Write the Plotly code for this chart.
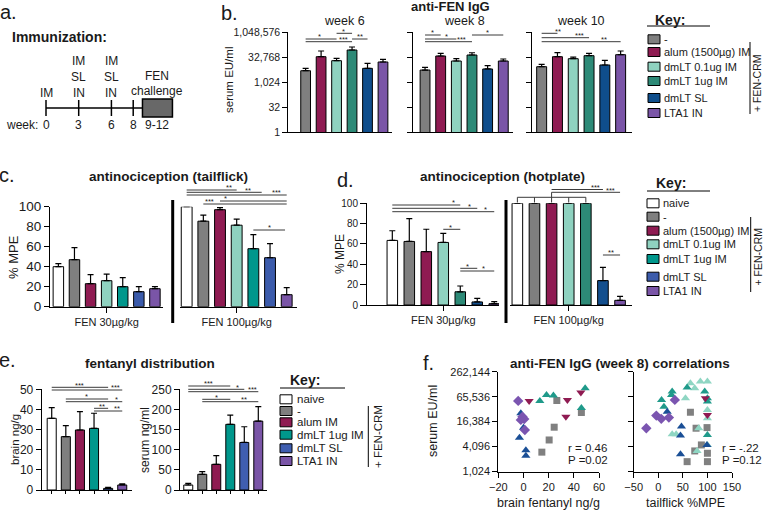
import math
import plotly.graph_objects as go

W, H = 763, 510
FONT = "Liberation Sans, Arial, Helvetica, sans-serif"
INK = "#1a1a1a"

# ======================= DATA =======================
# a. immunization timeline
timeline_weeks = [0, 3, 6, 8]
timeline_routes = [["IM"], ["IM", "SL", "IN"], ["IM", "SL", "IN"], []]
challenge_text = ["FEN", "challenge"]
challenge_span = "9-12"

# b. anti-FEN IgG (serum EU/ml)
igg_groups = ["-", "alum (1500µg) IM", "dmLT 0.1ug IM", "dmLT 1ug IM", "dmLT SL", "LTA1 IN"]
igg_weeks = ["week 6", "week 8", "week 10"]
igg_wk6 = [5100, 35600, 20500, 90000, 7100, 17100]
igg_wk6_err = [2000, 42900, 8000, 47000, 7200, 7700]
igg_wk8 = [5600, 39300, 19600, 45000, 6500, 19600]
igg_wk8_err = [2600, 17700, 7300, 16500, 3700, 6300]
igg_wk10 = [8900, 35600, 27000, 41000, 11300, 47000]
igg_wk10_err = [3500, 26400, 7000, 16000, 10300, 31500]
igg_ticks = [1, 32, 1024, 32768, 1048576]
igg_ticktext = ["1", "32", "1,024", "32,768", "1,048,576"]

# c / d. antinociception (% MPE)
mpe_groups = ["naive", "-", "alum (1500µg) IM", "dmLT 0.1ug IM", "dmLT 1ug IM", "dmLT SL", "LTA1 IN"]
doses = ["FEN 30µg/kg", "FEN 100µg/kg"]
tail_30 = [40, 47, 23, 26, 20, 15, 18]
tail_30_err = [3, 12, 9, 6.5, 9, 5, 2]
tail_100 = [100, 85.5, 97, 81.5, 58, 49, 12]
tail_100_err = [None, 6, 2, 6, 14, 14, 7]
hot_30 = [63.5, 62.5, 52.5, 61.5, 13, 3, 1.3]
hot_30_err = [9.5, 22.5, 22, 9, 5.7, 3.5, 2]
hot_100 = [100, 100, 100, 100, 100, 24, 4.6]
hot_100_err = [None, None, None, None, None, 13, 3.9]
mpe_ticks = [0, 20, 40, 60, 80, 100]

# e. fentanyl distribution
dist_groups = ["naive", "-", "alum IM", "dmLT 1ug IM", "dmLT SL", "LTA1 IN"]
brain = [35.6, 26.5, 29.8, 30.6, 0.8, 2.5]
brain_err = [5.3, 5.5, 9.1, 7.5, 0.5, 0.5]
serum = [12.4, 39, 63.7, 163, 118, 171]
serum_err = [4.2, 6.5, 21.6, 23, 39, 36]
brain_ticks = [0, 10, 20, 30, 40, 50]
serum_ticks = [0, 50, 100, 150, 200, 250]

# f. anti-FEN IgG (week 8) correlations
corr_ticks = [1024, 4096, 16384, 65536, 262144]
corr_ticktext = ["1,024", "4,096", "16,384", "65,536", "262,144"]
fb_gray_x = [26.5, 46, 24.4, 20.4, 14.6]
fb_gray_y = [52900, 27200, 12000, 5900, 3000]
fb_alum_x = [4.5, 34.9, 33.7, 45.6]
fb_alum_y = [51800, 54700, 21600, 82400]
fb_d1_x = [13, 18.3, 23.8, 49, 46]
fb_d1_y = [51800, 72200, 70200, 105000, 35100]
fb_sl_x = [-2.1, 0, -3.2, 1.9, 1.9]
fb_sl_y = [26000, 11600, 6650, 3330, 2470]
fb_lta_x = [-4.2, -0.8, -2.1, 0.6, 1.1]
fb_lta_y = [51800, 21600, 18000, 18800, 10300]

ft_gray_x = [65.4, 76.9, 99.2, 87.7, 100, 74.2, 58.7, 100]
ft_gray_y = [27550, 11340, 11740, 4480, 2820, 3210, 1770, 1770]
ft_alum_x = [95.8, 100]
ft_alum_y = [60300, 23800]
ft_d01_x = [65.4, 74.2, 85.6, 100, 55.3, 100, 100, 82.4, 28.3, 36.4, 79, 100]
ft_d01_y = [138500, 105000, 151500, 151500, 60300, 31400, 19750, 11340, 8130, 8130, 3210, 4480]
ft_d1_x = [28.3, 27, 6.7, 11.5, 58.7, 94.5, 100, 100, 100]
ft_d1_y = [87000, 72200, 54700, 37600, 108600, 87000, 60300, 50000, 7800]
ft_sl_x = [18.2, 47.2, 45.2, 45.2, 99]
ft_sl_y = [28500, 12400, 7540, 2660, 4480]
ft_lta_x = [-24.3, -4, 6.1, 21.6, 33.7]
ft_lta_y = [11340, 22850, 19080, 20450, 54700]
corr_stats = [["r = 0.46", "P =0.02"], ["r = -.22", "P =0.12"]]

# ======================= STYLE =======================
col_b = ["#7f7f7f", "#8f1b52", "#8fd2c0", "#2d8a77", "#0f4e8c", "#7a55a7"]
col_c = ["#ffffff", "#7f7f7f", "#8f1b52", "#8fd2c0", "#00978c", "#3b5bab", "#7a55a7"]
col_d = ["#ffffff", "#7f7f7f", "#8f1b52", "#8fd2c0", "#2d8a77", "#134f8e", "#7a55a7"]
col_e = ["#ffffff", "#7f7f7f", "#8f1b52", "#00978c", "#3f5eb0", "#7a55a7"]
col_f = {"gray": "#808080", "alum": "#8f1b52", "d01": "#8fd6c3", "d1": "#1f9a8a",
         "sl": "#1a4f96", "lta": "#7b55b0"}

shapes, annotations, traces = [], [], []
layout = dict(width=W, height=H, autosize=False,
              margin=dict(l=0, r=0, t=0, b=0, pad=0, autoexpand=False),
              paper_bgcolor="white", plot_bgcolor="rgba(0,0,0,0)", showlegend=False,
              font=dict(family=FONT, color=INK))


def px(x):
    return x / W


def py(y):
    return 1 - y / H


AX = {"n": 0}


def add_axes(xdom, ydom, xkw, ykw, tick_size=11):
    AX["n"] += 1
    n = AX["n"]
    s = "" if n == 1 else str(n)
    base = dict(showline=True, linecolor="black", linewidth=1, showgrid=False, zeroline=False,
                ticks="outside", ticklen=4, tickwidth=1, tickcolor="black", fixedrange=True,
                automargin=False, tickfont=dict(family=FONT, size=tick_size, color=INK))
    xa = dict(base)
    xa.update(domain=[px(xdom[0]), px(xdom[1])], anchor="y" + s)
    xa.update(xkw)
    ya = dict(base)
    ya.update(domain=[py(ydom[1]), py(ydom[0])], anchor="x" + s)
    ya.update(ykw)
    layout["xaxis" + s] = xa
    layout["yaxis" + s] = ya
    return "x" + s, "y" + s


def text(x, y, t, size, bold=False, xanchor="center", yanchor="middle", angle=0, xref="paper"):
    annotations.append(dict(x=px(x) if xref == "paper" else x, y=py(y), xref=xref, yref="paper",
                            text=("<b>%s</b>" % t) if bold else t, showarrow=False,
                            xanchor=xanchor, yanchor=yanchor, textangle=angle,
                            font=dict(family=FONT, size=size, color=INK)))


def pline(x0, y0, x1, y1, w=1.0, color="black", xref="paper"):
    shapes.append(dict(type="line", xref=xref, yref="paper",
                       x0=px(x0) if xref == "paper" else x0, x1=px(x1) if xref == "paper" else x1,
                       y0=py(y0), y1=py(y1), line=dict(color=color, width=w)))


def sig(xref, items, size=7.5):
    for x0, x1, ypx, lab, lx in items:
        pline(x0, ypx, x1, ypx, w=1, color="#3a3a3a", xref=xref)
        annotations.append(dict(xref=xref, yref="paper", x=lx, y=py(ypx - 2.2), text=lab,
                                showarrow=False, xanchor="center", yanchor="middle", borderpad=0,
                                font=dict(family=FONT, size=size, color=INK)))


def bars(xa, ya, vals, errs, colors, width):
    n = len(vals)
    traces.append(go.Bar(
        x=list(range(n)), y=vals, width=width, xaxis=xa, yaxis=ya, showlegend=False,
        hoverinfo="skip",
        marker=dict(color=colors, line=dict(color="black", width=1)),
        error_y=dict(type="data", array=errs, arrayminus=[0] * n, symmetric=False,
                     color="black", thickness=1.2, width=3)))


def legend_block(names, colors, rows, box_x, text_x, size=11):
    for name, c, y in zip(names, colors, rows):
        shapes.append(dict(type="rect", xref="paper", yref="paper", x0=px(box_x), x1=px(box_x + 12),
                           y0=py(y + 4.5), y1=py(y - 4.5), fillcolor=c,
                           line=dict(color="black", width=1)))
        text(text_x, y, name, size, xanchor="left")


# ======================= PANEL a =======================
text(8, 12, "a.", 20)
text(10, 37, "Immunization:", 14, bold=True, xanchor="left")
xa, ya = add_axes((30, 190), (55, 135), dict(range=[-1.468, 13.21], visible=False),
                  dict(range=[0, 1], visible=False))
box_lo, box_hi = 8.85, 11.6
pline(0, 108, box_lo, 108, w=1.5, xref=xa)
for w in timeline_weeks:
    pline(w, 100, w, 116, w=1.5, xref=xa)
shapes.append(dict(type="rect", xref=xa, yref="paper", x0=box_lo, x1=box_hi, y0=py(117), y1=py(99),
                   fillcolor="#686868", line=dict(color="black", width=1.5)))
for w, routes in zip(timeline_weeks, timeline_routes):
    for k, r in enumerate(reversed(routes)):
        text(w, 93 - 16 * k, r, 12, xref=xa)
    text(w, 125, str(w), 12, xref=xa)
box_mid = (box_lo + box_hi) / 2
for k, t in enumerate(reversed(challenge_text)):
    text(box_mid, 91 - 15 * k, t, 12, xref=xa)
text(box_mid, 125, challenge_span, 12, xref=xa)
text(-0.55, 125, "week:", 12, xanchor="right", xref=xa)

# ======================= PANEL b =======================
text(229, 13, "b.", 20)
text(450, 7, "anti-FEN IgG", 13, bold=True)
text(229, 80, "serum EU/ml", 11.5, angle=-90)
b_specs = [((288.3, 391.5), [-1.12, 5.55], igg_wk6, igg_wk6_err, True),
           ((413.3, 513.3), [-0.75, 5.64], igg_wk8, igg_wk8_err, False),
           ((531.7, 631.7), [-0.63, 5.7], igg_wk10, igg_wk10_err, False)]
b_sigs = [
    [(0, 2, 39.0, "*", 0.92), (0, 3, 41.7, "***", 2.47), (2, 3, 33.3, "*", 2.47), (3, 4, 39.0, "**", 3.5)],
    [(0, 1, 35.0, "*", 0.5), (0, 2, 39.0, "*", 1.39), (0, 3, 41.7, "***", 2.34), (3, 5, 35.0, "*", 3.98)],
    [(0, 1, 33.3, "**", 1.05), (0, 3, 37.7, "***", 2.42), (0, 5, 41.7, "**", 3.94)],
]
for (xd, xr, vals, errs, labels), wk, sg in zip(b_specs, igg_weeks, b_sigs):
    xa, ya = add_axes(xd, (32.3, 132.3),
                      dict(range=xr, ticks="", showticklabels=False),
                      dict(type="log", range=[0, math.log10(2 ** 20)], tickvals=igg_ticks,
                           ticktext=igg_ticktext, showticklabels=labels, ticklen=5),
                      tick_size=10.5)
    bars(xa, ya, vals, errs, col_b, 0.63)
    annotations.append(dict(x=2.5, y=py(21), xref=xa, yref="paper", text=wk, showarrow=False,
                            xanchor="center", yanchor="middle", borderpad=0,
                            font=dict(family=FONT, size=12.5, color=INK)))
    sig(xa, sg)
text(670, 20, "Key:", 14, bold=True)
pline(647, 26, 710, 26, w=1)
legend_block(igg_groups, col_b, [39.3, 52, 66.7, 81, 98, 113], 648, 662)
pline(750, 42, 750, 114, w=1)
text(757, 84, "+ FEN-CRM", 10.5, angle=-90)

# ======================= PANEL c =======================
text(7, 175, "c.", 20)
text(168, 176, "antinociception (tailflick)", 13.5, bold=True)
text(13, 257, "% MPE", 13, angle=-90)
xa, ya = add_axes((50, 163.3), (206.7, 306.7),
                  dict(range=[-0.52, 6.52], tickvals=[3], ticktext=[doses[0]], ticklen=5,
                       tickfont=dict(family=FONT, size=11, color=INK)),
                  dict(range=[0, 100], tickvals=mpe_ticks, ticklen=5), tick_size=13.5)
bars(xa, ya, tail_30, tail_30_err, col_c, 0.65)
xa, ya = add_axes((180, 296.7), (206.7, 306.7),
                  dict(range=[-0.4, 6.6], tickvals=[3], ticktext=[doses[1]], ticklen=5,
                       tickfont=dict(family=FONT, size=11, color=INK)),
                  dict(range=[0, 100], visible=False))
bars(xa, ya, tail_100, tail_100_err, col_c, 0.65)
sig(xa, [(0, 3, 190, "**", 2.56), (0, 4.5, 192.3, "**", 3.7), (0, 6, 195, "***", 5.4),
         (2, 6, 201, "*", 2.3), (1, 6, 204, "***", 1.36), (4, 5.9, 230, "*", 4.96)])
pline(172.7, 200, 172.7, 323, w=3)

# ======================= PANEL d =======================
text(345, 180, "d.", 20)
text(502, 176, "antinociception (hotplate)", 13.5, bold=True)
text(340, 254, "% MPE", 12, angle=-90)
xa, ya = add_axes((367, 499), (203.3, 305),
                  dict(range=[-1.49, 6.28], tickvals=[3], ticktext=[doses[0]], ticklen=5,
                       tickfont=dict(family=FONT, size=11, color=INK)),
                  dict(range=[0, 100], tickvals=mpe_ticks, ticklen=6), tick_size=10)
bars(xa, ya, hot_30, hot_30_err, col_d, 0.62)
sig(xa, [(0, 4, 205, "*", 3.63), (0, 5, 208.3, "*", 4.53), (0, 6, 211.7, "*", 5.47),
         (3, 4, 229.3, "*", 3.43), (4, 5, 268.3, "*", 4.41), (4, 6, 271, "*", 5.35)])
xa, ya = add_axes((510, 631.7), (203.3, 305),
                  dict(range=[-0.43, 6.68], tickvals=[3], ticktext=[doses[1]], ticklen=5,
                       tickfont=dict(family=FONT, size=11, color=INK)),
                  dict(range=[0, 100], visible=False))
bars(xa, ya, hot_100, hot_100_err, col_d, 0.62)
sig(xa, [(2, 5, 189.5, "***", 4.54), (2, 6, 192.3, "***", 5.42), (5, 6, 255, "**", 5.48)])
bracket_idx = [i for i, v in enumerate(hot_100) if v >= 100]
pline(bracket_idx[0], 197.3, bracket_idx[-1], 197.3, w=1, color="#3a3a3a", xref=xa)
for i in bracket_idx:
    pline(i, 197.3, i, 202.5, w=1, color="#3a3a3a", xref=xa)
pline(2, 192.3, 2, 197.3, w=1, color="#3a3a3a", xref=xa)
pline(506, 200, 506, 323, w=3)
text(671, 183, "Key:", 14, bold=True)
pline(647, 191, 710, 191, w=1)
legend_block(mpe_groups, col_c, [203.3, 216.7, 230.7, 244.3, 259, 276.7, 291], 647, 661)
pline(750.7, 217, 750.7, 292, w=1)
text(757.5, 257, "+ FEN-CRM", 10.5, angle=-90)

# ======================= PANEL e =======================
text(7, 360, "e.", 20)
text(150, 363, "fentanyl distribution", 13.5, bold=True)
text(15, 440, "brain ng/g", 11.5, angle=-90)
text(145, 440, "serum ng/ml", 12, angle=-90)
xa, ya = add_axes((41.7, 131.7), (389.3, 490),
                  dict(range=[-0.71, 5.67], tickvals=list(range(len(brain))), showticklabels=False,
                       ticklen=3),
                  dict(range=[0, 50], tickvals=brain_ticks, ticklen=5), tick_size=12)
bars(xa, ya, brain, brain_err, col_e, 0.64)
sig(xa, [(0, 4, 387.3, "***", 1.94), (0, 5, 390, "***", 4.5), (1, 4, 399, "*", 2.48),
         (1, 5, 401.7, "*", 4.56), (3, 4, 408.3, "**", 3.55), (3, 5, 411, "**", 4.6)])
xa, ya = add_axes((180, 266.7), (389.3, 490),
                  dict(range=[-0.59, 5.6], tickvals=list(range(len(serum))), showticklabels=False,
                       ticklen=3),
                  dict(range=[0, 250], tickvals=serum_ticks, ticklen=5), tick_size=12)
bars(xa, ya, serum, serum_err, col_e, 0.64)
sig(xa, [(0, 3, 386, "***", 1.48), (0, 4, 389.3, "*", 3.5), (0, 5, 391.7, "***", 4.57),
         (1, 3, 399.3, "*", 1.98), (1, 5, 401.7, "**", 4.0)])
text(305, 380, "Key:", 14, bold=True)
pline(280, 388, 345, 388, w=1)
legend_block(dist_groups, col_e, [399.3, 411, 422.3, 434.7, 448.3, 461], 280, 295, size=11.5)
pline(368.3, 406, 368.3, 467, w=1)
text(378, 437, "+ FEN-CRM", 11.5, angle=-90)

# ======================= PANEL f =======================
text(428, 363, "f.", 20)
text(620, 363, "anti-FEN IgG (week 8) correlations", 13.5, bold=True)
text(433, 421, "serum EU/ml", 12.5, angle=-90)
ylog = dict(type="log", range=[math.log10(1024), math.log10(262144)], tickvals=corr_ticks,
            ticktext=corr_ticktext, ticklen=5)
f_axes = []
xa, ya = add_axes((498.3, 599), (371.7, 471.5),
                  dict(range=[-20, 60], tickvals=[-20, 0, 20, 40, 60], ticklen=5), ylog, tick_size=11)
f_axes.append((xa, ya))
ylog2 = dict(ylog)
ylog2["showticklabels"] = False
xa, ya = add_axes((633.7, 732), (371.7, 471.5),
                  dict(range=[-50, 150], tickvals=[-50, 0, 50, 100, 150], ticklen=5), ylog2, tick_size=11)
f_axes.append((xa, ya))

f_left = [(fb_gray_x, fb_gray_y, "gray", "square", 7), (fb_d1_x, fb_d1_y, "d1", "triangle-up", 8),
          (fb_alum_x, fb_alum_y, "alum", "triangle-down", 8), (fb_sl_x, fb_sl_y, "sl", "triangle-up", 8),
          (fb_lta_x, fb_lta_y, "lta", "diamond", 8)]
f_right = [(ft_gray_x, ft_gray_y, "gray", "square", 7), (ft_d01_x, ft_d01_y, "d01", "triangle-up", 8),
           (ft_d1_x, ft_d1_y, "d1", "triangle-up", 8), (ft_alum_x, ft_alum_y, "alum", "triangle-down", 8),
           (ft_sl_x, ft_sl_y, "sl", "triangle-up", 8), (ft_lta_x, ft_lta_y, "lta", "diamond", 8)]
for (xa, ya), series in zip(f_axes, [f_left, f_right]):
    for xs, ys, key, sym, sz in series:
        traces.append(go.Scatter(x=xs, y=ys, mode="markers", xaxis=xa, yaxis=ya, showlegend=False,
                                 hoverinfo="skip", cliponaxis=False,
                                 marker=dict(symbol=sym, size=sz, color=col_f[key], line=dict(width=0))))
text(548.5, 503, "brain fentanyl ng/g", 12.5)
text(685, 503, "tailflick %MPE", 12.5)
for (xs, (rtxt, ptxt)) in zip([566, 720], corr_stats):
    text(xs, 448, rtxt, 11.5, xanchor="left")
    text(xs, 460, ptxt, 11.5, xanchor="left")

layout["shapes"] = shapes
layout["annotations"] = annotations
fig = go.Figure(data=traces, layout=layout)
fig.write_html("out.html", config={"displayModeBar": False},
               post_script="document.body.style.margin='0px';document.body.style.overflow='hidden';")
